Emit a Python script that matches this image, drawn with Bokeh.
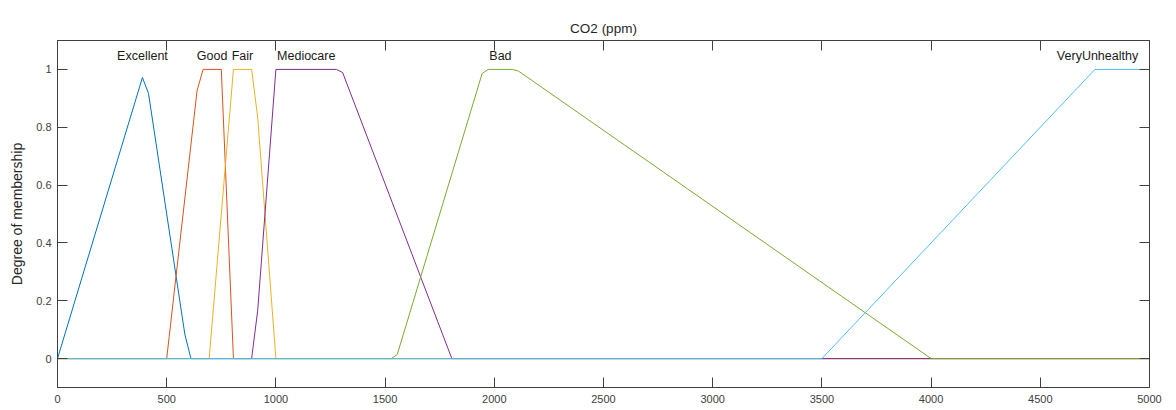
from bokeh.plotting import figure
from bokeh.models import Range1d, LinearAxis, FixedTicker, CustomJSTickFormatter, ColumnDataSource
from bokeh.core.properties import value
from bokeh.embed import file_html
from bokeh.resources import INLINE

# ---- data ----
mf_names = ["Excellent", "Good", "Fair", "Mediocare", "Bad", "VeryUnhealthy"]
mf_colors = ["#0072BD", "#D95319", "#EDB120", "#7E2F8E", "#77AC30", "#4DBEEE"]

excellent_x = [0, 388.9, 416.7, 583.3, 611.1, 5000]
excellent_y = [0, 0.972, 0.917, 0.083, 0, 0]

good_x = [0, 500, 638.9, 666.7, 750, 805.6, 5000]
good_y = [0, 0, 0.926, 1, 1, 0, 0]

fair_x = [0, 694.4, 805.6, 888.9, 916.7, 1000, 5000]
fair_y = [0, 0, 1, 1, 0.833, 0, 0]

mediocare_x = [0, 888.9, 916.7, 1000, 1277.8, 1305.6, 1805.6, 5000]
mediocare_y = [0, 0, 0.167, 1, 1, 0.989, 0, 0]

bad_x = [0, 1527.8, 1555.6, 1944.4, 1972.2, 2083.3, 2111.1, 4000, 5000]
bad_y = [0, 0, 0.014, 0.986, 1, 1, 0.994, 0, 0]

veryunhealthy_x = [0, 3500, 4750, 5000]
veryunhealthy_y = [0, 0, 1, 1]

label_x = [389, 708, 847, 1139, 2028, 4762]

x_ticks = [0, 500, 1000, 1500, 2000, 2500, 3000, 3500, 4000, 4500, 5000]
y_ticks = [0, 0.2, 0.4, 0.6, 0.8, 1]

series_x = [excellent_x, good_x, fair_x, mediocare_x, bad_x, veryunhealthy_x]
series_y = [excellent_y, good_y, fair_y, mediocare_y, bad_y, veryunhealthy_y]

FONT = "Liberation Sans"
AX_COLOR = "#404040"

p = figure(width=1176, height=410,
           x_range=Range1d(0, 5000), y_range=Range1d(-0.1, 1.1),
           output_backend="svg", toolbar_location=None,
           min_border_left=57, min_border_right=27,
           min_border_top=40, min_border_bottom=23,
           background_fill_color="white", border_fill_color="white")

p.title.text = "CO2 (ppm)"
p.title.align = "center"
p.title.text_font = FONT
p.title.text_font_size = "13.5px"
p.title.text_font_style = "normal"
p.title.text_color = "#262626"

p.xgrid.visible = False
p.ygrid.visible = False
p.outline_line_color = AX_COLOR
p.outline_line_width = 1

for xs, ys, c in zip(series_x, series_y, mf_colors):
    p.line(xs, ys, line_color=c, line_width=1)

src = ColumnDataSource(dict(x=label_x, y=[1.048] * len(label_x), t=mf_names))
p.text(x="x", y="y", text="t", source=src, text_align="center", text_baseline="middle",
       text_font=value(FONT), text_font_size="12.5px", text_color="#1a1a1a")

def style_axis(ax, show_labels=True):
    ax.major_tick_in = 10
    ax.major_tick_out = 0
    ax.minor_tick_in = 0
    ax.minor_tick_out = 0
    ax.axis_line_color = AX_COLOR
    ax.major_tick_line_color = AX_COLOR
    ax.major_label_text_font = FONT
    ax.major_label_text_font_size = "11px"
    ax.major_label_text_color = AX_COLOR
    if not show_labels:
        ax.formatter = CustomJSTickFormatter(code="return ''")
        ax.major_label_standoff = 0

xa = p.xaxis[0]
xa.ticker = FixedTicker(ticks=x_ticks)
style_axis(xa)
xa.major_label_standoff = 7

ya = p.yaxis[0]
ya.ticker = FixedTicker(ticks=y_ticks)
ya.formatter = CustomJSTickFormatter(code="return String(Math.round(tick*10)/10)")
style_axis(ya)
ya.major_label_standoff = 6
ya.axis_label = "Degree of membership"
ya.axis_label_text_font = FONT
ya.axis_label_text_font_size = "14px"
ya.axis_label_text_font_style = "normal"
ya.axis_label_text_color = "#262626"
ya.axis_label_standoff = 8

top = LinearAxis(ticker=FixedTicker(ticks=x_ticks))
style_axis(top, show_labels=False)
p.add_layout(top, "above")

right = LinearAxis(ticker=FixedTicker(ticks=y_ticks))
style_axis(right, show_labels=False)
p.add_layout(right, "right")

open("out.html", "w").write(file_html(p, INLINE))
